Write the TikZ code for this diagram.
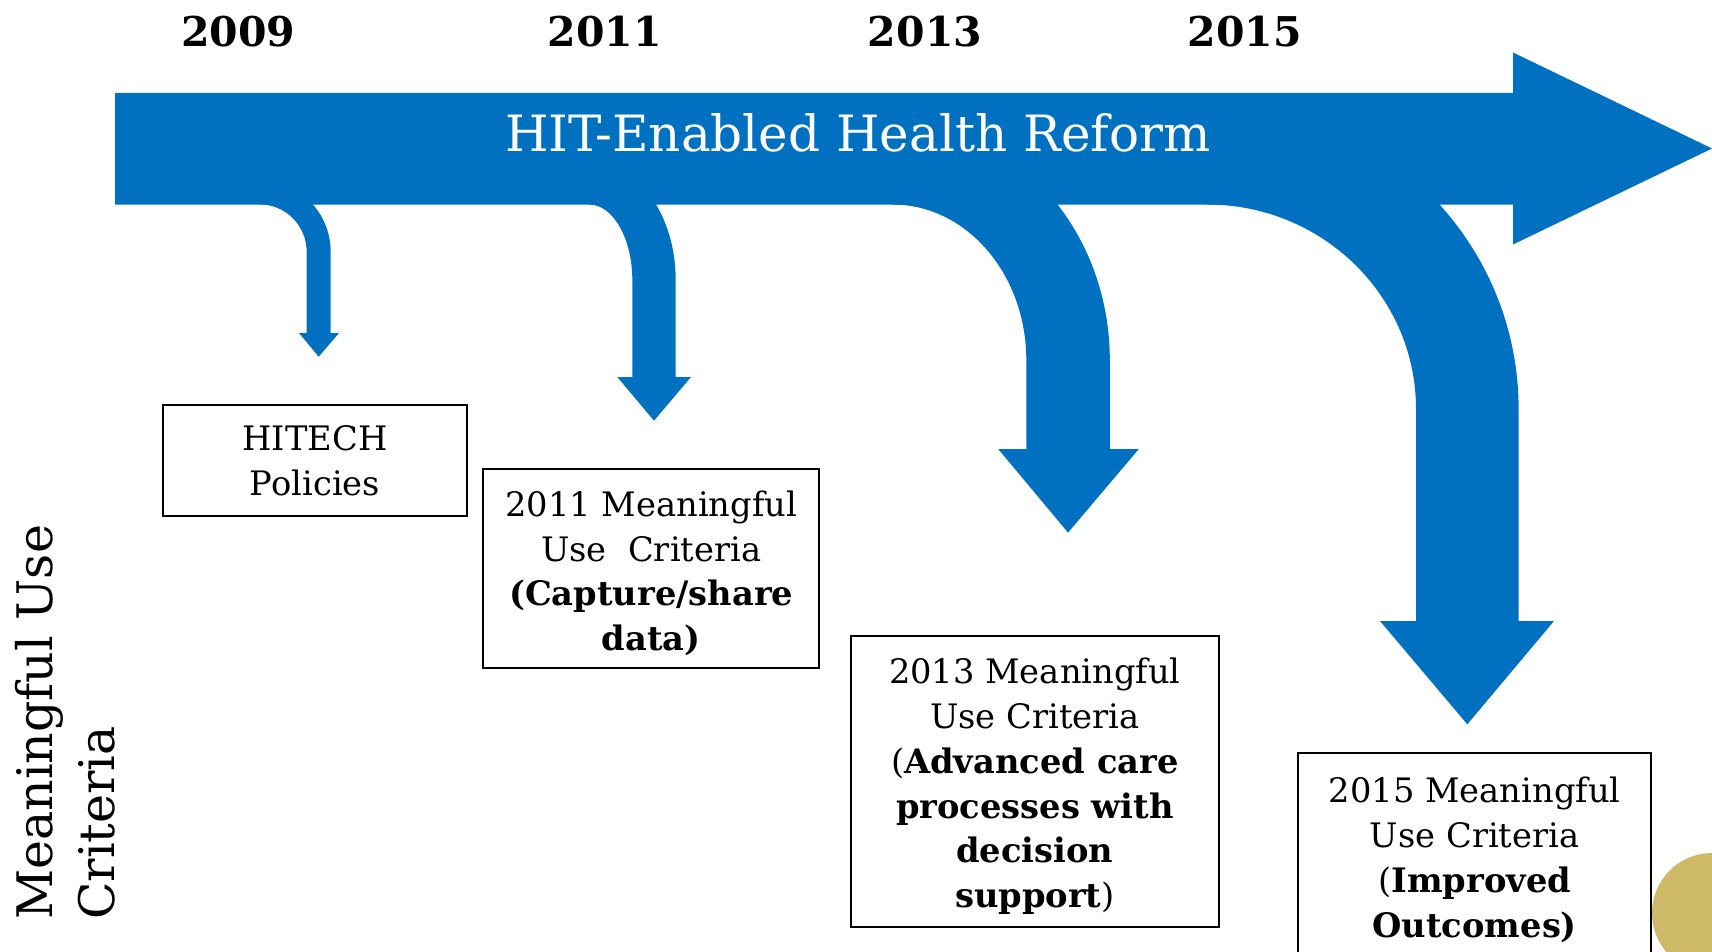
\documentclass[tikz,border=0pt]{standalone}
\usepackage{fontspec}
\setmainfont{DejaVu Serif}
\definecolor{reformblue}{RGB}{0,112,192}
\definecolor{accentgold}{RGB}{206,185,104}
\tikzset{
  criteriabox/.style={draw=black, line width=2pt, fill=white, align=center,
    inner sep=0pt, font=\fontsize{33.7}{44.8}\selectfont},
  yearlabel/.style={anchor=base, inner sep=0pt, font=\fontsize{41}{50}\selectfont\bfseries},
}
% taller first line, to set the text block a little lower in its box
\newcommand\firstline[1]{\rule{0pt}{#1pt}}
% bent arrow leaving the bottom of the main shaft:
% #1 start of inner curve, #2/#3 left/right edge of the stem, #4 end of the bend,
% #5 base of the head, #6/#7 left/right corners of the head, #8 tip y
\newcommand\bentarrow[8]{%
  \pgfmathsetmacro\rxi{#2-#1}%
  \pgfmathsetmacro\ryi{#4-204.5}%
  \pgfmathsetmacro\rxo{#3-#1}%
  \pgfmathsetmacro\ryo{\ryi+#3-#2}%
  \pgfmathsetmacro\tipx{(#2+#3)/2}%
  \fill[reformblue] (#1,{#4-\ryo})
    .. controls ({#1+0.5523*\rxo},{#4-\ryo}) and (#3,{#4-0.5523*\ryo}) .. (#3,#4)
    -- (#3,#5) -- (#7,#5) -- (\tipx,#8) -- (#6,#5) -- (#2,#5) -- (#2,#4)
    .. controls (#2,{#4-0.5523*\ryi}) and ({#1+0.5523*\rxi},204.5) .. (#1,204.5)
    -- cycle;%
}
\begin{document}
\begin{tikzpicture}[x=1pt,y=-1pt]
\useasboundingbox (0,0) rectangle (1712,952);
\clip (0,0) rectangle (1712,952);

% main timeline arrow
\fill[reformblue] (115,93) -- (1513,93) -- (1513,52.5) -- (1712,148.5)
  -- (1513,244.5) -- (1513,204.5) -- (115,204.5) -- cycle;

% arrows branching down from the timeline
\bentarrow{260}{306.7}{330.7}{252}{333}{299}{339}{356.7}
\bentarrow{589}{632.3}{675.7}{280}{377}{617.3}{691}{420.7}
\bentarrow{892.4}{1026.3}{1109.8}{360}{449}{998.2}{1138.8}{532.6}
\bentarrow{1207}{1416}{1518.6}{409}{621}{1380}{1554}{724.3}

\node[anchor=base, text=white, inner sep=0pt, font=\fontsize{50}{60}\selectfont]
  (title) at (858,152) {HIT-Enabled Health Reform};

% years
\node[yearlabel] (y2009) at (238.3,46.7) {2009};
\node[yearlabel] (y2011) at (604.8,46.7) {2011};
\node[yearlabel] (y2013) at (925,46.7) {2013};
\node[yearlabel] (y2015) at (1244.8,46.7) {2015};

% criteria boxes
\node[criteriabox, minimum width=303.4pt, minimum height=111pt]
  (hitech) at (315,460.5) {HITECH\\Policies};
\node[criteriabox, minimum width=335.7pt, minimum height=199.3pt]
  (mu2011) at (651.2,568.7)
  {\firstline{35}2011 Meaningful\\Use\ \ Criteria\\\textbf{(Capture/share}\\\textbf{data)}};
\node[criteriabox, minimum width=368.3pt, minimum height=290.5pt]
  (mu2013) at (1034.9,781.7)
  {\firstline{35}2013 Meaningful\\Use Criteria\\(\textbf{Advanced care}\\\textbf{processes with}\\\textbf{decision}\\\textbf{support})};
\node[criteriabox, minimum width=352.7pt, minimum height=206.4pt]
  (mu2015) at (1474.7,856.5)
  {\firstline{32}2015 Meaningful\\Use Criteria\\(\textbf{Improved}\\\textbf{Outcomes)}};

% side caption
\node[rotate=90, anchor=north west, align=left, inner sep=0pt,
  font=\fontsize{49}{62}\selectfont] (mutitle) at (15,920) {Meaningful Use\\Criteria};

% corner dot
\fill[accentgold] (1712,913) circle[radius=60];
\end{tikzpicture}
\end{document}
